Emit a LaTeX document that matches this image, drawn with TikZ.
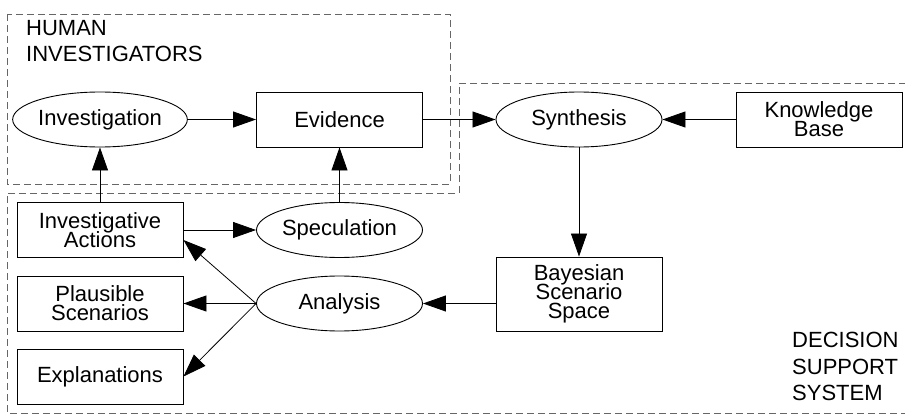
\documentclass[tikz,border=0pt]{standalone}
\usepackage{fontspec}
\setmainfont{Liberation Sans}
\usetikzlibrary{shapes.geometric,arrows.meta}
\begin{document}
\begin{tikzpicture}[x=1pt, y=-1pt, font={\fontsize{22}{19}\selectfont\lineskiplimit=-20pt},
	box/.style={draw, line width=0.9pt, minimum width=166pt, minimum height=55pt, inner sep=0pt, align=center},
	oval/.style={draw, ellipse, line width=0.9pt, minimum width=166pt, minimum height=55pt, inner sep=0pt},
	arr/.style={-{Triangle[length=23pt, width=16pt]}, line width=0.8pt},
	group/.style={gray!80!black, line width=0.8pt, dash pattern=on 7pt off 4pt},
	lbl/.style={anchor=north west, align=left, inner sep=0pt, font={\fontsize{22}{26.5}\selectfont}}]
			\useasboundingbox (0, 0) rectangle (905, 417);
			\draw[group] (7, 14) rectangle (450, 184);
			\draw[group] (906, 83) -- (459, 83) -- (459, 193) -- (7, 193) -- (7, 413) -- (906, 413);
			\node[lbl] (human) at (26, 20) {HUMAN\\INVESTIGATORS};
			\node[lbl] (dss) at (792, 332) {DECISION\\SUPPORT\\SYSTEM};
			\node[oval] (investigation) at (100, 119.5) {Investigation};
			\node[box] (evidence) at (339.5, 119.5) {Evidence};
			\node[oval] (synthesis) at (579, 119.5) {Synthesis};
			\node[box] (knowledge) at (819, 119.5) {Knowledge\\Base};
			\node[box] (actions) at (100, 230) {Investigative\\Actions};
			\node[oval] (speculation) at (339.5, 230) {Speculation};
			\node[box] (plausible) at (100, 303.5) {Plausible\\Scenarios};
			\node[oval] (analysis) at (339.5, 303.5) {Analysis};
			\node[box] (explanations) at (100, 376.5) {Explanations};
			\node[box, minimum height=74pt] (bayes) at (579, 294) {Bayesian\\Scenario\\Space};
			\draw[arr] (investigation) -- (evidence);
			\draw[arr] (evidence) -- (synthesis);
			\draw[arr] (knowledge) -- (synthesis);
			\draw[arr] (synthesis) -- (bayes);
			\draw[arr] (bayes.west |- analysis) -- (analysis);
			\draw[arr] (actions) -- (speculation);
			\draw[arr] (actions) -- (investigation);
			\draw[arr] (speculation) -- (evidence);
			\draw[arr] (analysis.west) -- ([yshift=-10pt]actions.east);
			\draw[arr] (analysis.west) -- (plausible.east);
			\draw[arr] (analysis.west) -- (explanations.east);
\end{tikzpicture}
\end{document}
